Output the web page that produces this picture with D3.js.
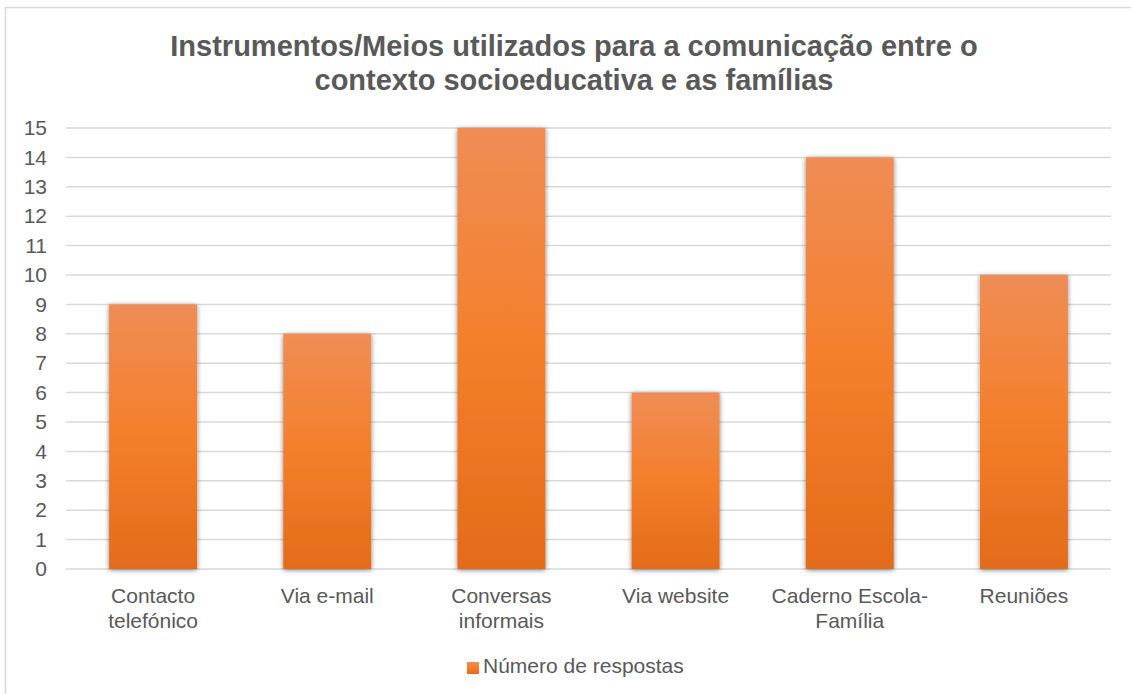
<!DOCTYPE html>
<html>
<head>
<meta charset="utf-8">
<title>Instrumentos/Meios de comunicação</title>
<script src="https://d3js.org/d3.v7.min.js"></script>
<style>
  body { margin: 0; background: #fff; }
  svg text { font-family: "Liberation Sans", Arial, sans-serif; fill: #595959; }
</style>
</head>
<body>
<div id="chart"></div>
<script>
// data
const categories = [
  ["Contacto", "telefónico"],
  ["Via e-mail"],
  ["Conversas", "informais"],
  ["Via website"],
  ["Caderno Escola-", "Família"],
  ["Reuniões"]
];
const values = [9, 8, 15, 6, 14, 10];
const yTicks = d3.range(0, 16);
const titleLines = [
  "Instrumentos/Meios utilizados para a comunicação entre o",
  "contexto socioeducativa e as famílias"
];
const seriesName = "Número de respostas";

const width = 1131, height = 694;
const margin = {top: 128, right: 20, bottom: 125, left: 66};

const svg = d3.select("#chart").append("svg")
  .attr("width", width)
  .attr("height", height);

// outer frame (runs off right/bottom edge like the screenshot)
svg.append("rect")
  .attr("x", 5.5).attr("y", 7.5)
  .attr("width", width + 10).attr("height", height + 10)
  .attr("fill", "#fff")
  .attr("stroke", "#d9d9d9")
  .attr("stroke-width", 1.5);

const defs = svg.append("defs");
const grad = defs.append("linearGradient")
  .attr("id", "barGrad")
  .attr("x1", 0).attr("y1", 0).attr("x2", 0).attr("y2", 1);
grad.append("stop").attr("offset", "0%").attr("stop-color", "#ef8d55");
grad.append("stop").attr("offset", "50%").attr("stop-color", "#f47f2b");
grad.append("stop").attr("offset", "100%").attr("stop-color", "#e36b19");

const shadow = defs.append("filter")
  .attr("id", "shadow")
  .attr("x", "-20%").attr("y", "-5%").attr("width", "140%").attr("height", "110%");
shadow.append("feDropShadow")
  .attr("dx", 0).attr("dy", 1)
  .attr("stdDeviation", 2.6)
  .attr("flood-color", "#000")
  .attr("flood-opacity", 0.5);

const x = d3.scaleBand()
  .domain(d3.range(categories.length))
  .range([margin.left, 1111])
  .paddingInner(0.495)
  .paddingOuter(0.2475);

const y = d3.scaleLinear()
  .domain([0, 15])
  .range([569, margin.top]);

// title
svg.append("g").selectAll("text")
  .data(titleLines)
  .join("text")
  .attr("x", 574)
  .attr("y", (d, i) => 56 + i * 34)
  .attr("text-anchor", "middle")
  .attr("font-size", 29)
  .attr("font-weight", "bold")
  .text(d => d);

// gridlines
svg.append("g").selectAll("line")
  .data(yTicks)
  .join("line")
  .attr("x1", margin.left).attr("x2", 1111)
  .attr("y1", d => y(d)).attr("y2", d => y(d))
  .attr("stroke", "#d9d9d9")
  .attr("stroke-width", 1.5);

// y axis labels
const yAxis = svg.append("g")
  .attr("transform", `translate(${margin.left},0)`)
  .call(d3.axisLeft(y).tickValues(yTicks).tickSize(0).tickPadding(19));
yAxis.select(".domain").remove();
yAxis.selectAll("text")
  .attr("font-size", 21)
  .attr("font-family", null)
  .attr("fill", "#595959");

// bars
svg.append("g").selectAll("rect")
  .data(values)
  .join("rect")
  .attr("x", (d, i) => x(i))
  .attr("width", x.bandwidth())
  .attr("y", d => y(d))
  .attr("height", d => y(0) - y(d))
  .attr("fill", "url(#barGrad)")
  .attr("filter", "url(#shadow)");

// category labels
const xl = svg.append("g").selectAll("text")
  .data(categories)
  .join("text")
  .attr("text-anchor", "middle")
  .attr("font-size", 21)
  .attr("transform", (d, i) => `translate(${x(i) + x.bandwidth() / 2},603)`);
xl.selectAll("tspan")
  .data(d => d)
  .join("tspan")
  .attr("x", 0)
  .attr("y", (d, i) => i * 24.5)
  .text(d => d);

// legend
const legend = svg.append("g").attr("transform", "translate(467,662)");
legend.append("rect")
  .attr("width", 12).attr("height", 12)
  .attr("fill", "url(#barGrad)");
legend.append("text")
  .attr("x", 16).attr("y", 11)
  .attr("font-size", 21)
  .text(seriesName);
</script>
</body>
</html>
